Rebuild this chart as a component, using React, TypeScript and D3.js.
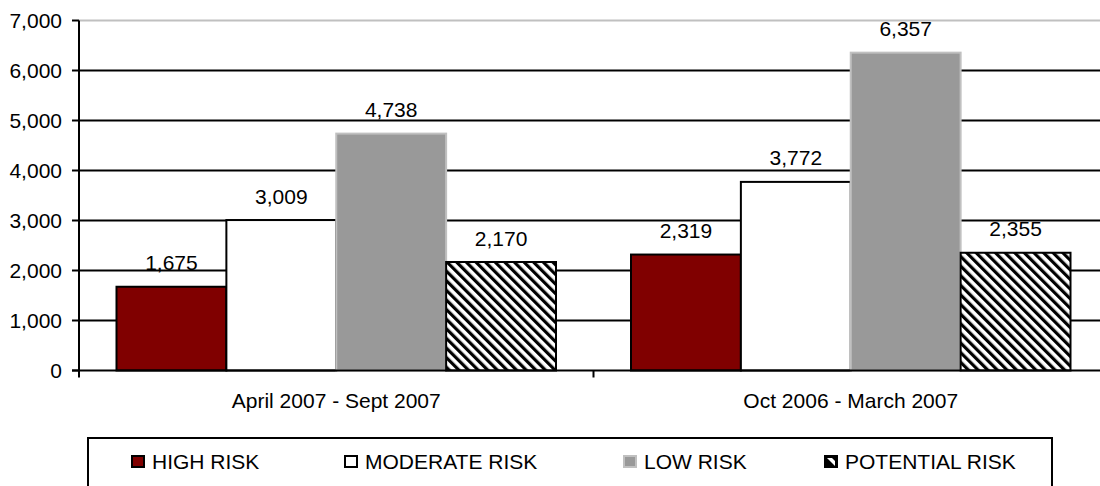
import React from "react";
import * as d3 from "d3";

const categories = ["April 2007 - Sept 2007", "Oct 2006 - March 2007"];
const seriesNames = ["HIGH RISK", "MODERATE RISK", "LOW RISK", "POTENTIAL RISK"];
const highRisk = [1675, 2319];
const moderateRisk = [3009, 3772];
const lowRisk = [4738, 6357];
const potentialRisk = [2170, 2355];
const yTicks = [0, 1000, 2000, 3000, 4000, 5000, 6000, 7000];

const seriesValues = [highRisk, moderateRisk, lowRisk, potentialRisk];

const W = 1100;
const H = 486;
const X0 = 79;
const X1 = 1108;
const Y0 = 370.5;
const Y1 = 20.5;
const FONT = "'Liberation Sans', Arial, sans-serif";

const fills = ["#800000", "#ffffff", "#999999", "url(#hatch)"];
const strokes = ["#000000", "#000000", "#c0c0c0", "#000000"];
const legendX = [131, 344, 623, 824];

export default function App() {
  const y = d3.scaleLinear().domain([0, 7000]).range([Y0, Y1]);
  const x0 = d3.scaleBand<string>().domain(categories).range([X0, X1]).padding(0);
  const bw = x0.bandwidth();
  const outer = 37.5;
  const x1 = d3
    .scaleBand<string>()
    .domain(seriesNames)
    .range([outer, bw - outer])
    .padding(0);
  const fmt = d3.format(",");

  return (
    <svg
      width={W}
      height={H}
      style={{ position: "absolute", left: 0, top: 0, background: "#fff" }}
      fontFamily={FONT}
    >
      <defs>
        <pattern
          id="hatch"
          patternUnits="userSpaceOnUse"
          width={6.8}
          height={6.8}
          patternTransform="rotate(-45)"
        >
          <rect width={6.8} height={6.8} fill="#fff" />
          <rect x={0} y={0} width={3.2} height={6.8} fill="#000" />
        </pattern>
      </defs>

      {/* value labels */}
      {categories.map((c, ci) =>
        seriesNames.map((s, si) => {
          const v = seriesValues[si][ci];
          const cx = (x0(c) ?? 0) + (x1(s) ?? 0) + x1.bandwidth() / 2;
          return (
            <text
              key={`l-${ci}-${si}`}
              x={cx}
              y={y(v) - 16.5}
              textAnchor="middle"
              fontSize={21}
              fill="#000"
            >
              {fmt(v)}
            </text>
          );
        })
      )}

      {/* gridlines */}
      {yTicks.slice(1).map((t) => (
        <line
          key={`g-${t}`}
          x1={X0}
          x2={X1}
          y1={y(t)}
          y2={y(t)}
          stroke={t === 7000 ? "#c0c0c0" : "#000"}
          strokeWidth={2}
        />
      ))}

      {/* bars */}
      {categories.map((c, ci) =>
        seriesNames.map((s, si) => {
          const v = seriesValues[si][ci];
          const bx = (x0(c) ?? 0) + (x1(s) ?? 0);
          return (
            <rect
              key={`b-${ci}-${si}`}
              x={bx}
              y={y(v)}
              width={x1.bandwidth()}
              height={Y0 - y(v)}
              fill={fills[si]}
              stroke={strokes[si]}
              strokeWidth={2}
            />
          );
        })
      )}

      {/* y axis */}
      <line x1={X0} x2={X0} y1={Y1} y2={Y0 + 6} stroke="#000" strokeWidth={2} />
      {yTicks.map((t) => (
        <g key={`yt-${t}`}>
          <line x1={X0 - 7} x2={X0} y1={y(t)} y2={y(t)} stroke="#000" strokeWidth={2} />
          <text x={62} y={y(t) + 7.5} textAnchor="end" fontSize={21} fill="#000">
            {fmt(t)}
          </text>
        </g>
      ))}

      {/* x axis */}
      <line x1={X0 - 7} x2={X1} y1={Y0} y2={Y0} stroke="#000" strokeWidth={2} />
      {[...categories.map((c) => x0(c) ?? 0), X1].map((tx, i) => (
        <line key={`xt-${i}`} x1={tx} x2={tx} y1={Y0} y2={Y0 + 7} stroke="#000" strokeWidth={2} />
      ))}
      {categories.map((c) => (
        <text
          key={`xl-${c}`}
          x={(x0(c) ?? 0) + bw / 2}
          y={408}
          textAnchor="middle"
          fontSize={21}
          fill="#000"
        >
          {c}
        </text>
      ))}

      {/* legend */}
      <rect x={88} y={438} width={964} height={70} fill="#fff" stroke="#000" strokeWidth={2} />
      {seriesNames.map((s, si) => {
        const lx = legendX[si];
        return (
          <g key={`lg-${s}`}>
            {si === 3 ? (
              <g>
                <rect x={lx} y={455} width={14} height={13} fill="#000" />
                <polygon
                  points={`${lx + 3},${458} ${lx + 8},${458} ${lx + 11},${461} ${lx + 11},${466} z`}
                  fill="#fff"
                />
              </g>
            ) : (
              <rect
                x={lx + 1}
                y={456}
                width={12}
                height={11}
                fill={fills[si]}
                stroke={si === 2 ? "#c0c0c0" : "#000"}
                strokeWidth={2}
              />
            )}
            <text x={lx + 21} y={469} fontSize={21} fill="#000">
              {s}
            </text>
          </g>
        );
      })}
    </svg>
  );
}
